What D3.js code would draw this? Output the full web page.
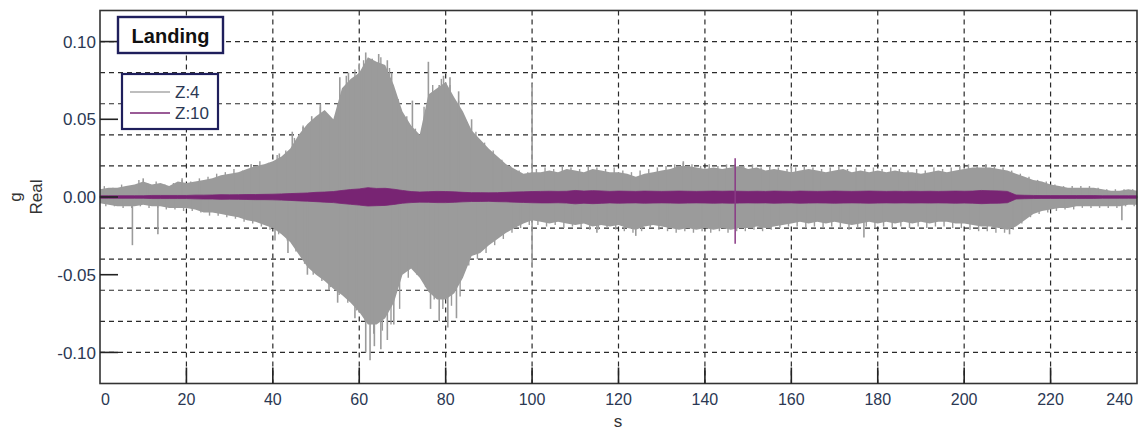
<!DOCTYPE html>
<html>
<head>
<meta charset="utf-8">
<script src="https://cdn.jsdelivr.net/npm/d3@7"></script>
<style>
  html, body { margin: 0; padding: 0; background: #fff; }
  svg { display: block; }
</style>
</head>
<body>
<svg id="chart" width="1140" height="430"></svg>
<script>
// ---------------- data ----------------
const seriesNames = ["Z:4", "Z:10"];
const xTickValues = [0, 20, 40, 60, 80, 100, 120, 140, 160, 180, 200, 220, 240];
const yTickValues = [-0.10, -0.05, 0.00, 0.05, 0.10];
const yGridValues = [-0.10, -0.08, -0.06, -0.04, -0.02, 0.00, 0.02, 0.04, 0.06, 0.08, 0.10];

// sample times (s) of the envelopes, every 2 s from 0 to 240
const times = d3.range(0, 241, 2);
// fringe sample times (s), odd seconds 1..239
const fringeTimes = d3.range(1, 240, 2);

// Z:4 (grey) upper / lower envelope, g
const z4Upper = [
  0.005, 0.006, 0.006, 0.007, 0.008, 0.010, 0.008, 0.009, 0.007, 0.010,
  0.009, 0.010, 0.011, 0.012, 0.014, 0.015, 0.016, 0.018, 0.020, 0.021,
  0.023, 0.026, 0.031, 0.040, 0.047, 0.052, 0.056, 0.050, 0.070, 0.076,
  0.080, 0.090, 0.087, 0.085, 0.072, 0.055, 0.046, 0.040, 0.066, 0.070,
  0.074, 0.064, 0.055, 0.043, 0.037, 0.031, 0.026, 0.021, 0.018, 0.015,
  0.016, 0.016, 0.017, 0.016, 0.018, 0.017, 0.016, 0.018, 0.017, 0.016,
  0.016, 0.015, 0.013, 0.015, 0.016, 0.017, 0.018, 0.020, 0.020, 0.019,
  0.018, 0.019, 0.018, 0.019, 0.020, 0.018, 0.019, 0.017, 0.018, 0.017,
  0.016, 0.017, 0.018, 0.017, 0.016, 0.017, 0.018, 0.016, 0.017, 0.016,
  0.017, 0.016, 0.017, 0.016, 0.016, 0.015, 0.016, 0.017, 0.016, 0.017,
  0.018, 0.019, 0.019, 0.019, 0.018, 0.017, 0.015, 0.013, 0.011, 0.010,
  0.008, 0.007, 0.006, 0.006, 0.006, 0.006, 0.005, 0.004, 0.004, 0.005,
  0.004
];
const z4Lower = [
  -0.004, -0.005, -0.006, -0.006, -0.006, -0.005, -0.006, -0.006, -0.007, -0.007,
  -0.007, -0.008, -0.010, -0.010, -0.011, -0.012, -0.013, -0.015, -0.016, -0.018,
  -0.020, -0.024, -0.029, -0.037, -0.045, -0.050, -0.054, -0.059, -0.063, -0.068,
  -0.074, -0.082, -0.082, -0.078, -0.068, -0.050, -0.046, -0.052, -0.061, -0.066,
  -0.066, -0.062, -0.052, -0.038, -0.036, -0.031, -0.027, -0.023, -0.020, -0.017,
  -0.015, -0.016, -0.017, -0.016, -0.017, -0.018, -0.017, -0.019, -0.018, -0.019,
  -0.018, -0.020, -0.021, -0.019, -0.018, -0.019, -0.020, -0.021, -0.020, -0.021,
  -0.020, -0.021, -0.020, -0.021, -0.020, -0.020, -0.019, -0.020, -0.019, -0.018,
  -0.017, -0.016, -0.017, -0.016, -0.017, -0.016, -0.017, -0.018, -0.017, -0.016,
  -0.017, -0.016, -0.017, -0.016, -0.017, -0.016, -0.017, -0.016, -0.016, -0.017,
  -0.017, -0.018, -0.019, -0.019, -0.020, -0.021, -0.019, -0.015, -0.011, -0.009,
  -0.008, -0.007, -0.007, -0.006, -0.006, -0.006, -0.006, -0.006, -0.006, -0.005,
  -0.005
];
// Z:4 fringe tips at odd seconds (upper / lower), g
const z4FringeUpper = [
  0.007, 0.006, 0.008, 0.007, 0.011, 0.009, 0.010, 0.008, 0.009, 0.011,
  0.010, 0.012, 0.013, 0.015, 0.016, 0.018, 0.017, 0.021, 0.023, 0.022,
  0.027, 0.030, 0.038, 0.046, 0.050, 0.058, 0.052, 0.060, 0.078, 0.082,
  0.088, 0.086, 0.090, 0.083, 0.063, 0.052, 0.044, 0.058, 0.072, 0.076,
  0.072, 0.062, 0.048, 0.042, 0.035, 0.030, 0.024, 0.020, 0.017, 0.016,
  0.018, 0.019, 0.018, 0.020, 0.019, 0.018, 0.020, 0.019, 0.018, 0.019,
  0.017, 0.016, 0.017, 0.018, 0.019, 0.020, 0.021, 0.022, 0.021, 0.020,
  0.021, 0.020, 0.021, 0.021, 0.020, 0.021, 0.019, 0.020, 0.019, 0.018,
  0.019, 0.020, 0.019, 0.018, 0.019, 0.020, 0.018, 0.019, 0.018, 0.019,
  0.018, 0.019, 0.018, 0.017, 0.018, 0.017, 0.019, 0.018, 0.019, 0.020,
  0.021, 0.020, 0.021, 0.020, 0.019, 0.017, 0.015, 0.013, 0.011, 0.010,
  0.008, 0.007, 0.007, 0.007, 0.007, 0.006, 0.005, 0.005, 0.005, 0.005
];
const z4FringeLower = [
  -0.006, -0.006, -0.007, -0.007, -0.006, -0.007, -0.007, -0.008, -0.008, -0.009,
  -0.009, -0.010, -0.012, -0.012, -0.013, -0.014, -0.016, -0.017, -0.019, -0.021,
  -0.024, -0.028, -0.035, -0.043, -0.050, -0.054, -0.058, -0.063, -0.068, -0.073,
  -0.080, -0.088, -0.086, -0.082, -0.072, -0.052, -0.050, -0.058, -0.066, -0.072,
  -0.070, -0.064, -0.044, -0.040, -0.036, -0.031, -0.027, -0.023, -0.020, -0.018,
  -0.018, -0.019, -0.018, -0.020, -0.019, -0.020, -0.021, -0.021, -0.020, -0.021,
  -0.022, -0.023, -0.022, -0.020, -0.021, -0.022, -0.023, -0.022, -0.023, -0.022,
  -0.023, -0.022, -0.023, -0.022, -0.022, -0.021, -0.022, -0.021, -0.020, -0.019,
  -0.019, -0.020, -0.019, -0.020, -0.019, -0.020, -0.021, -0.020, -0.019, -0.020,
  -0.019, -0.020, -0.019, -0.020, -0.019, -0.020, -0.019, -0.019, -0.020, -0.020,
  -0.021, -0.022, -0.022, -0.023, -0.023, -0.021, -0.017, -0.013, -0.011, -0.010,
  -0.009, -0.008, -0.008, -0.007, -0.007, -0.007, -0.007, -0.007, -0.006, -0.006
];
// Z:4 isolated peaks [time s, value g]
const z4Spikes = [
  [7.5, -0.031], [10, 0.012], [13.4, -0.024], [19, 0.012], [35, 0.021],
  [40.5, -0.028], [41.5, 0.028], [43.5, -0.036], [44.5, 0.042], [47, 0.045],
  [48, -0.050], [49, 0.052], [51, 0.060], [53, -0.060], [55, -0.068],
  [55.5, 0.077], [57.5, 0.080], [59, -0.078], [60, 0.086], [61.5, 0.093],
  [61.5, -0.100], [62.5, -0.105], [63, 0.089], [63.5, -0.096], [64.5, 0.092],
  [65, -0.098], [66.5, 0.088], [66.5, -0.092], [67.5, 0.080], [68, -0.082],
  [69, 0.062], [72.3, 0.062], [76, 0.087], [76.5, -0.072], [78.5, 0.072],
  [78.5, -0.080], [79.5, 0.078], [80.5, -0.084], [81, 0.077], [82.5, -0.078],
  [83, 0.068], [86, 0.050], [100, 0.073], [100, -0.045], [115, -0.023],
  [124, -0.025], [135, 0.023], [160, 0.020], [176.8, -0.026], [205, 0.021],
  [210.5, -0.024], [236.5, -0.015]
];

// Z:10 (purple) upper / lower envelope, g
const z10Upper = [
  0.0008, 0.0008, 0.0008, 0.0008, 0.0008, 0.0008,
  0.0010, 0.0010, 0.0010, 0.0010, 0.0010,
  0.0012, 0.0012, 0.0013, 0.0015, 0.0014,
  0.0015, 0.0016, 0.0016, 0.0017, 0.0018,
  0.0020, 0.0022, 0.0024, 0.0026, 0.0030,
  0.0032, 0.0035, 0.0042, 0.0048, 0.0052,
  0.0060, 0.0055, 0.0056, 0.0050, 0.0042,
  0.0035, 0.0032, 0.0034, 0.0036, 0.0035,
  0.0033, 0.0030, 0.0028, 0.0028, 0.0027,
  0.0028, 0.0030, 0.0032, 0.0033, 0.0035,
  0.0036, 0.0037, 0.0036, 0.0037, 0.0042,
  0.0038, 0.0041, 0.0039, 0.0036, 0.0038,
  0.0037, 0.0036, 0.0038, 0.0037, 0.0036,
  0.0037, 0.0038, 0.0037, 0.0036, 0.0037,
  0.0038, 0.0037, 0.0038, 0.0037, 0.0036,
  0.0037, 0.0036, 0.0038, 0.0037, 0.0036,
  0.0038, 0.0037, 0.0036, 0.0037, 0.0038,
  0.0037, 0.0036, 0.0037, 0.0038, 0.0037,
  0.0036, 0.0037, 0.0036, 0.0037, 0.0036,
  0.0037, 0.0036, 0.0037, 0.0038, 0.0037,
  0.0038, 0.0042, 0.0040, 0.0039, 0.0036,
  0.0013, 0.0011, 0.0010, 0.0009, 0.0009,
  0.0009, 0.0009, 0.0009, 0.0009, 0.0009,
  0.0008, 0.0008, 0.0008, 0.0008, 0.0008
];
const z10Lower = [
  -0.0008, -0.0008, -0.0008, -0.0008, -0.0008, -0.0008,
  -0.0010, -0.0010, -0.0010, -0.0010, -0.0010,
  -0.0012, -0.0013, -0.0013, -0.0015, -0.0014,
  -0.0015, -0.0016, -0.0017, -0.0017, -0.0018,
  -0.0020, -0.0022, -0.0025, -0.0027, -0.0030,
  -0.0033, -0.0036, -0.0042, -0.0047, -0.0052,
  -0.0058, -0.0056, -0.0054, -0.0048, -0.0040,
  -0.0036, -0.0033, -0.0034, -0.0036, -0.0036,
  -0.0034, -0.0031, -0.0029, -0.0029, -0.0028,
  -0.0030, -0.0031, -0.0033, -0.0035, -0.0037,
  -0.0038, -0.0038, -0.0037, -0.0039, -0.0044,
  -0.0040, -0.0043, -0.0041, -0.0038, -0.0040,
  -0.0039, -0.0038, -0.0040, -0.0039, -0.0038,
  -0.0039, -0.0040, -0.0039, -0.0038, -0.0039,
  -0.0040, -0.0039, -0.0040, -0.0039, -0.0038,
  -0.0039, -0.0038, -0.0040, -0.0039, -0.0038,
  -0.0040, -0.0039, -0.0038, -0.0039, -0.0040,
  -0.0039, -0.0038, -0.0039, -0.0040, -0.0039,
  -0.0038, -0.0039, -0.0038, -0.0039, -0.0038,
  -0.0039, -0.0038, -0.0039, -0.0040, -0.0039,
  -0.0040, -0.0043, -0.0041, -0.0040, -0.0037,
  -0.0013, -0.0011, -0.0010, -0.0009, -0.0009,
  -0.0009, -0.0009, -0.0009, -0.0009, -0.0009,
  -0.0008, -0.0008, -0.0008, -0.0008, -0.0008
];
// Z:10 isolated peak [time s, upper g, lower g]
const z10Spikes = [[147, 0.025, -0.030]];

// ---------------- drawing ----------------
const svg = d3.select("#chart");
const L = 100, R = 1137, T = 10.5, B = 383.5;
const x = d3.scaleLinear().domain([0, 240]).range([L, R]);
const y = d3.scaleLinear().domain([-0.12, 0.12]).range([B, T]);

const GREY = "#9b9b9b", PURPLE = "#782473", NAVY = "#1f1f5c", LABEL = "#2b3853";
const FONT = "'Liberation Sans', Arial, sans-serif";

svg.append("rect").attr("width", 1140).attr("height", 430).attr("fill", "#fff");

// grid
const grid = svg.append("g").attr("stroke", "#2a2a2a").attr("stroke-width", 1.2)
  .attr("stroke-dasharray", "5,4");
grid.selectAll(".hg").data(yGridValues).join("line")
  .attr("x1", L).attr("x2", R).attr("y1", d => y(d)).attr("y2", d => y(d));
grid.selectAll(".vg").data(xTickValues.filter(d => d > 0 && d < 240)).join("line")
  .attr("x1", d => x(d)).attr("x2", d => x(d)).attr("y1", T).attr("y2", B);

// Z:4 grey
const idx = d3.range(times.length);
svg.append("path")
  .datum(idx)
  .attr("fill", GREY)
  .attr("d", d3.area().x(i => x(times[i])).y0(i => y(z4Lower[i])).y1(i => y(z4Upper[i])));
const fringe = svg.append("g").attr("stroke", GREY).attr("stroke-width", 1.4);
fringe.selectAll(".fu").data(d3.range(fringeTimes.length)).join("line")
  .attr("x1", i => x(fringeTimes[i])).attr("x2", i => x(fringeTimes[i]))
  .attr("y1", y(0)).attr("y2", i => y(z4FringeUpper[i]));
fringe.selectAll(".fl").data(d3.range(fringeTimes.length)).join("line")
  .attr("x1", i => x(fringeTimes[i]) + 1.5).attr("x2", i => x(fringeTimes[i]) + 1.5)
  .attr("y1", y(0)).attr("y2", i => y(z4FringeLower[i]));
svg.append("g").attr("stroke", GREY).attr("stroke-width", 1.6)
  .selectAll("line").data(z4Spikes).join("line")
  .attr("x1", d => x(d[0])).attr("x2", d => x(d[0]))
  .attr("y1", y(0)).attr("y2", d => y(d[1]));

// Z:10 purple
svg.append("path")
  .datum(idx)
  .attr("fill", PURPLE)
  .attr("stroke", PURPLE).attr("stroke-width", 0.8)
  .attr("d", d3.area().x(i => x(times[i])).y0(i => y(z10Lower[i])).y1(i => y(z10Upper[i])));
svg.append("g").attr("stroke", "#8a3a86").attr("stroke-width", 1.5)
  .selectAll("line").data(z10Spikes).join("line")
  .attr("x1", d => x(d[0])).attr("x2", d => x(d[0]))
  .attr("y1", d => y(d[1])).attr("y2", d => y(d[2]));

// frame
svg.append("rect").attr("x", L).attr("y", T).attr("width", R - L).attr("height", B - T)
  .attr("fill", "none").attr("stroke", "#333").attr("stroke-width", 1.6);

// ticks
const ticks = svg.append("g").attr("stroke", "#222").attr("stroke-width", 1.6);
ticks.selectAll(".yt").data(yTickValues).join("line")
  .attr("x1", L).attr("x2", L + 18).attr("y1", d => y(d)).attr("y2", d => y(d));
ticks.selectAll(".xt").data(xTickValues.filter(d => d > 0 && d < 240)).join("line")
  .attr("x1", d => x(d)).attr("x2", d => x(d)).attr("y1", B).attr("y2", B - 16);

// tick labels
svg.append("g").selectAll("text").data(yTickValues).join("text")
  .attr("x", 96).attr("y", d => y(d)).attr("dy", "0.36em")
  .attr("text-anchor", "end").attr("font-family", FONT).attr("font-size", 17)
  .attr("fill", LABEL)
  .text(d => (Math.abs(d) < 1e-9 ? 0 : d).toFixed(2));
svg.append("g").selectAll("text").data(xTickValues).join("text")
  .attr("x", d => d === 0 ? L + 1 : d === 240 ? R - 4 : x(d))
  .attr("y", 405)
  .attr("text-anchor", d => d === 0 ? "start" : d === 240 ? "end" : "middle")
  .attr("font-family", FONT).attr("font-size", 16).attr("fill", LABEL)
  .text(d => d);

// axis titles
svg.append("text").attr("x", 618).attr("y", 427).attr("text-anchor", "middle")
  .attr("font-family", FONT).attr("font-size", 17).attr("fill", "#333").text("s");
svg.append("text").attr("transform", "translate(42,197) rotate(-90)")
  .attr("text-anchor", "middle").attr("font-family", FONT).attr("font-size", 17)
  .attr("fill", "#333").text("Real");
svg.append("text").attr("transform", "translate(21,197) rotate(-90)")
  .attr("text-anchor", "middle").attr("font-family", FONT).attr("font-size", 17)
  .attr("fill", "#333").text("g");

// title box
svg.append("rect").attr("x", 118).attr("y", 17).attr("width", 105).attr("height", 36)
  .attr("fill", "#fff").attr("stroke", NAVY).attr("stroke-width", 2.4);
svg.append("text").attr("x", 170.5).attr("y", 43).attr("text-anchor", "middle")
  .attr("font-family", FONT).attr("font-size", 20).attr("font-weight", "bold")
  .attr("fill", "#111").text("Landing");

// legend
svg.append("rect").attr("x", 122).attr("y", 74).attr("width", 96).attr("height", 55)
  .attr("fill", "#fff").attr("stroke", NAVY).attr("stroke-width", 2.2);
const legColors = ["#a8a8a8", PURPLE];
const leg = svg.append("g");
seriesNames.forEach((name, i) => {
  const ly = 92 + i * 21;
  leg.append("line").attr("x1", 130).attr("x2", 170).attr("y1", ly).attr("y2", ly)
    .attr("stroke", legColors[i]).attr("stroke-width", 1.5);
  leg.append("text").attr("x", 175).attr("y", ly).attr("dy", "0.36em")
    .attr("font-family", FONT).attr("font-size", 17).attr("fill", LABEL).text(name);
});
</script>
</body>
</html>
